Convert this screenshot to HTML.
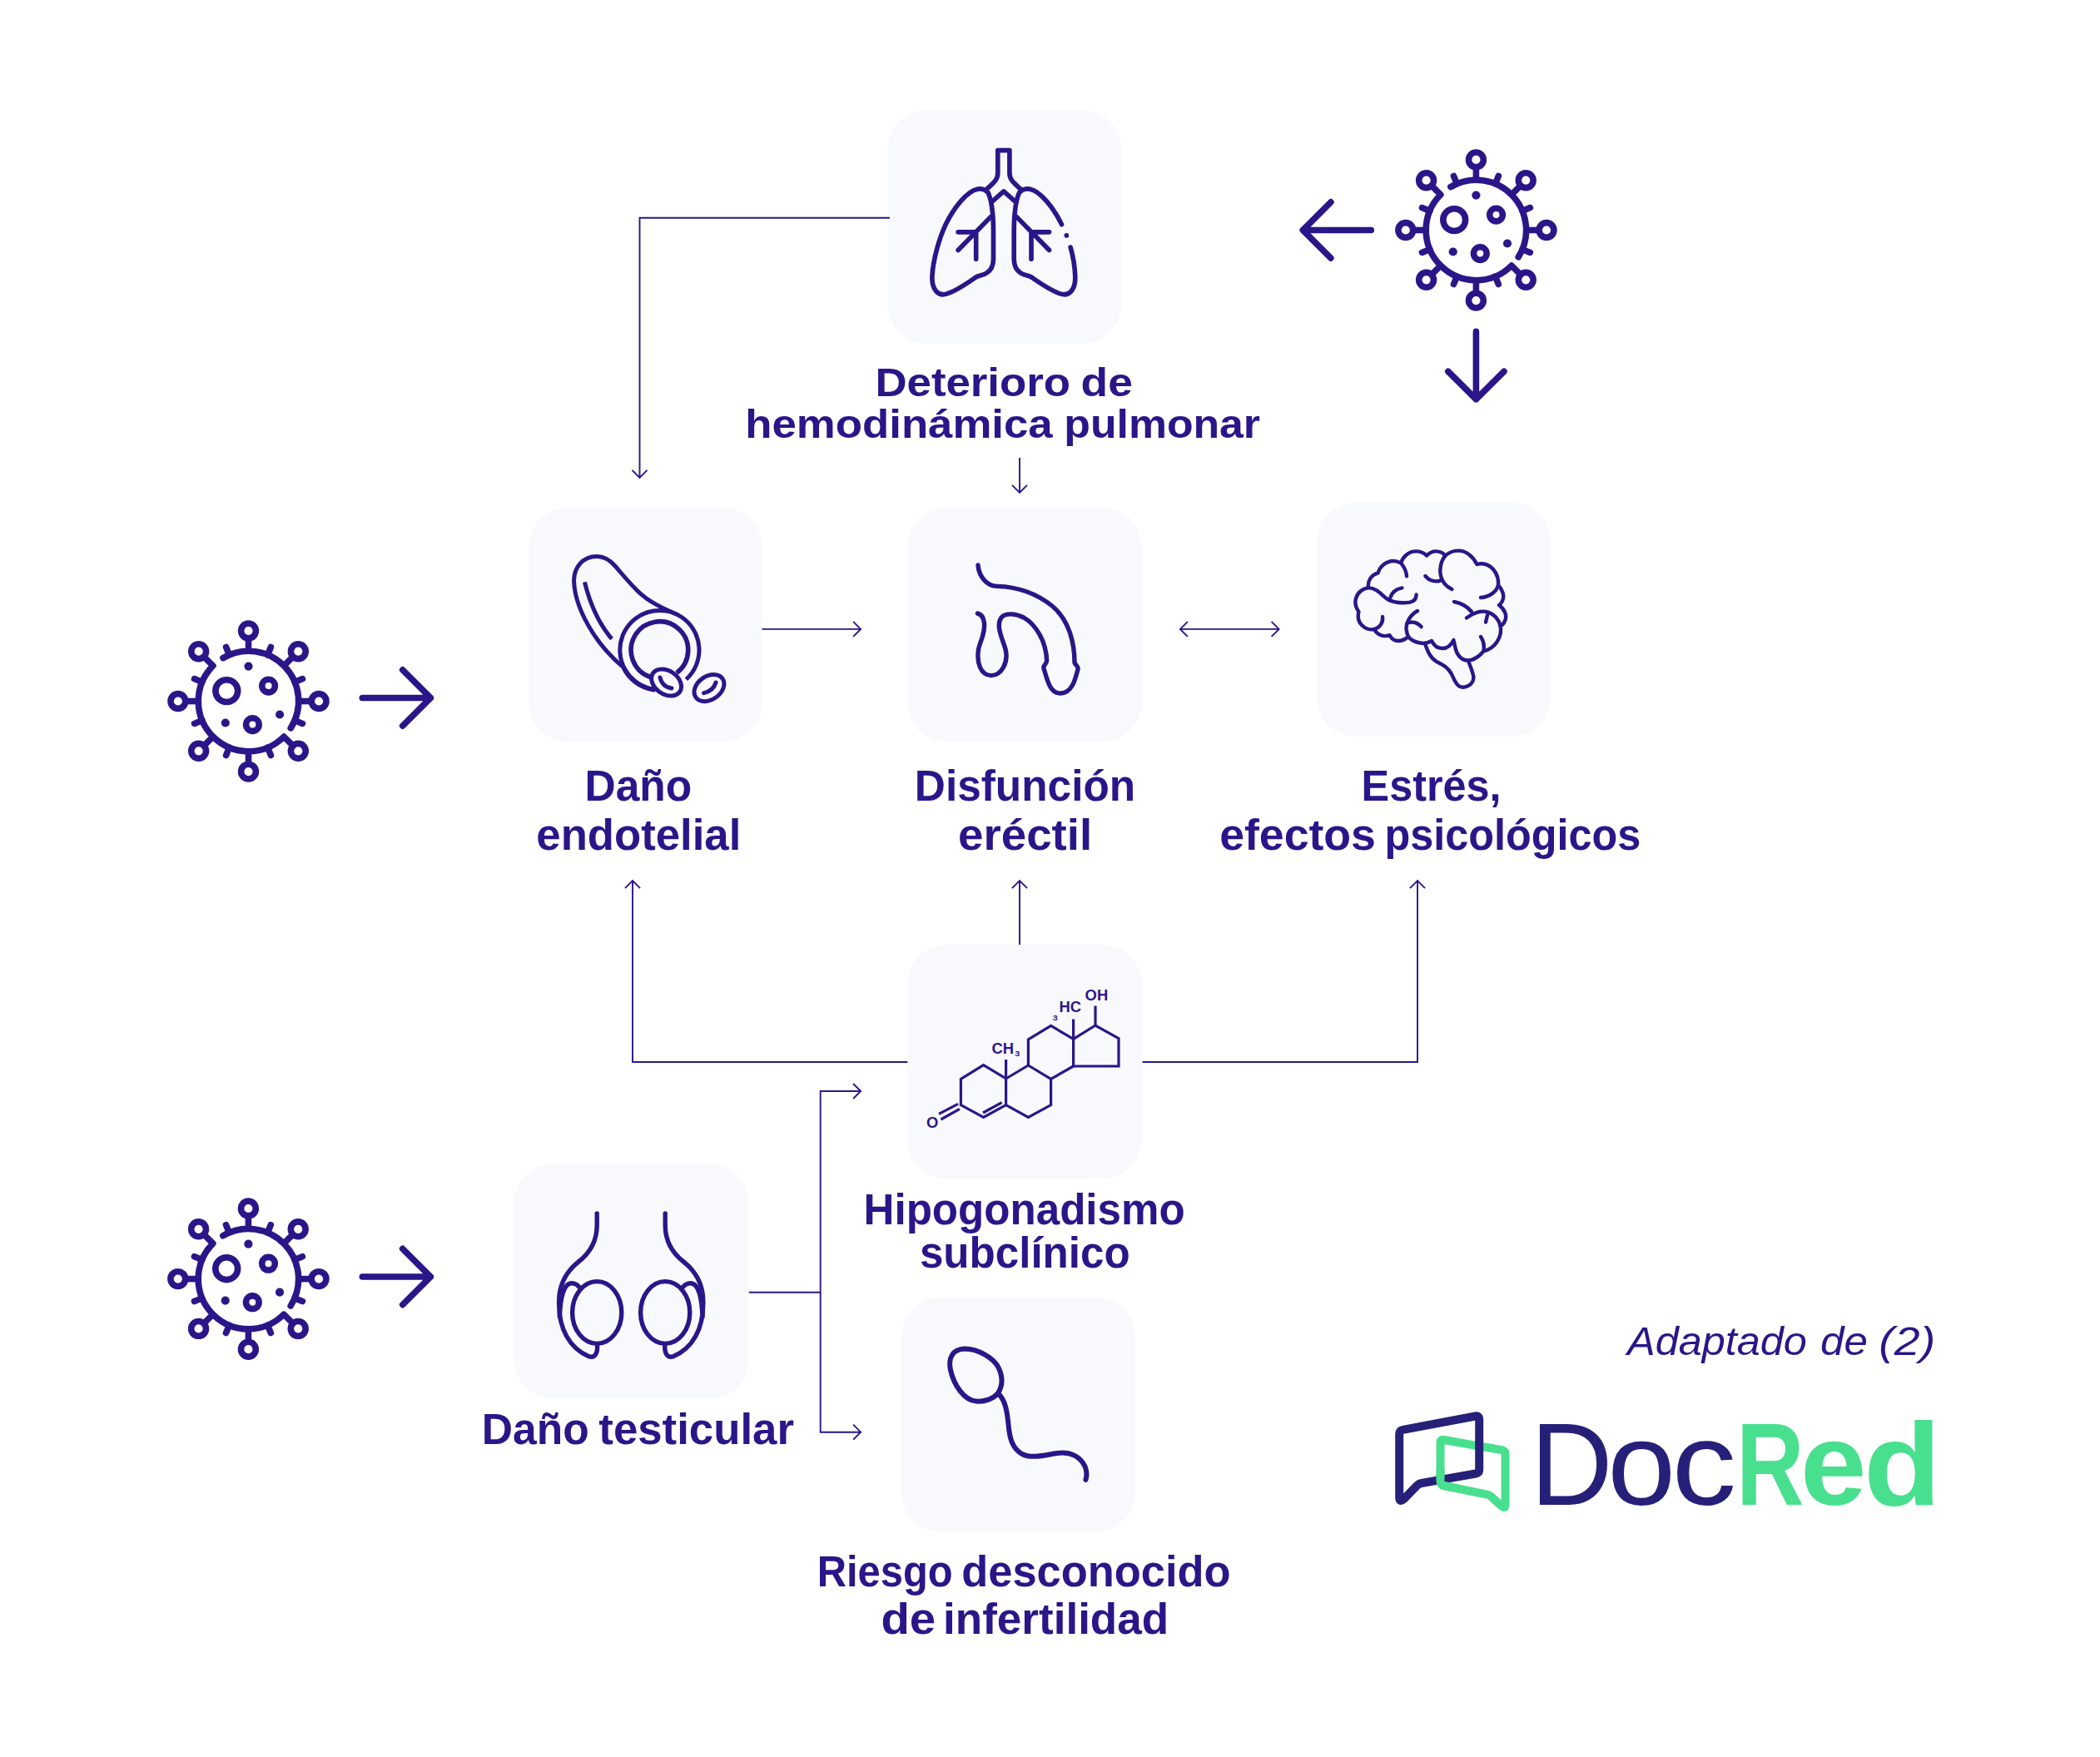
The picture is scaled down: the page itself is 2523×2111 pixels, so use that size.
<!DOCTYPE html>
<html lang="es"><head><meta charset="utf-8"><title>COVID-19 y disfunción eréctil</title>
<style>
html,body{margin:0;padding:0;background:#fff;}
body{width:2523px;height:2111px;overflow:hidden;}
svg{display:block;}
text{font-family:"Liberation Sans",sans-serif;}
.ic{fill:none;stroke:#2a1689;stroke-linecap:round;stroke-linejoin:round;}
.ln{fill:none;stroke:#2a1689;stroke-width:1.9;stroke-linecap:butt;stroke-linejoin:miter;}
</style></head><body>
<svg width="2523" height="2111" viewBox="0 0 2523 2111">
<rect width="2523" height="2111" fill="#ffffff"/>

<g id="boxes">
<rect x="1066.0" y="132.0" width="281.0" height="281.0" rx="47" ry="47" fill="#f8f9fc"/>
<rect x="634.8" y="610.0" width="280.8" height="281.0" rx="47" ry="47" fill="#f8f9fc"/>
<rect x="1090.4" y="610.0" width="281.0" height="281.0" rx="47" ry="47" fill="#f8f9fc"/>
<rect x="1582.0" y="604.0" width="281.0" height="281.0" rx="47" ry="47" fill="#f8f9fc"/>
<rect x="1090.4" y="1135.0" width="281.0" height="281.0" rx="47" ry="47" fill="#f8f9fc"/>
<rect x="617.6" y="1398.4" width="282.2" height="282.4" rx="47" ry="47" fill="#f8f9fc"/>
<rect x="1083.0" y="1559.0" width="281.0" height="281.0" rx="47" ry="47" fill="#f8f9fc"/>
</g>
<g id="connectors" class="ln">
<path d="M1069,261.7 H768.5 V574 M759.5,564.8 L768.5,573.8 L777.5,564.8"/>
<path d="M1225,550 V592 M1216.0,582.8 L1225.0,591.8 L1234.0,582.8"/>
<path d="M915.5,755.9 H1034 M1025.1,746.9 L1034.1,755.9 L1025.1,764.9"/>
<path d="M1418,755.9 H1536.5 M1426.9,746.9 L1417.9,755.9 L1426.9,764.9 M1527.6,746.9 L1536.6,755.9 L1527.6,764.9"/>
<path d="M1090.4,1276 H760 V1058 M751.0,1067.2 L760.0,1058.2 L769.0,1067.2"/>
<path d="M1225,1135 V1058 M1216.0,1067.2 L1225.0,1058.2 L1234.0,1067.2"/>
<path d="M1372.6,1276 H1703 V1058 M1694.0,1067.2 L1703.0,1058.2 L1712.0,1067.2"/>
<path d="M899.8,1552.7 H985.7"/>
<path d="M1034,1311 H985.7 V1720.7 H1034 M1025.1,1302.0 L1034.1,1311.0 L1025.1,1320.0 M1025.1,1711.7 L1034.1,1720.7 L1025.1,1729.7"/>
</g>
<g id="icons">
<g class="ic" stroke-width="32" transform="translate(1040,120.6) scale(0.176435)">
<path d="M822,607 C865,565 900,545 900,495 L900,340 L980,340 L980,495 C980,545 1015,565 1058,607"/>
<path d="M860,690 L940,620 L1020,690"/>
<path d="M870,1080 L870,900 C870,800 865,700 835,630 C820,610 790,598 760,604 C690,618 600,732 545,845 C500,940 458,1090 453,1200 C450,1290 495,1335 550,1318 C620,1298 710,1232 750,1205 C775,1188 800,1195 825,1175 C855,1155 870,1120 870,1080 Z"/>
<path d="M1395,1000 C1415,1070 1425,1140 1427,1200 C1430,1290 1385,1335 1330,1318 C1260,1298 1170,1232 1130,1205 C1105,1188 1080,1195 1055,1175 C1025,1155 1010,1120 1010,1080 L1010,900 C1010,800 1015,700 1045,630 C1060,610 1090,598 1120,604 C1190,618 1280,732 1335,845"/>
<circle cx="1368" cy="920" r="16" fill="#2a1689" stroke="none"/>
<path d="M850,795 L630,1020 M630,897 L750,897 M752,905 L752,1080"/>
<path d="M1030,795 L1250,1020 M1250,897 L1130,897 M1128,905 L1128,1080"/>
</g>
<g class="ic" stroke-width="25" transform="translate(600,590) scale(0.2)">
<path d="M1062,739 C1000,712 900,670 830,600 C770,540 730,490 695,450 C665,415 630,392 585,392 C500,392 445,460 448,545 C452,640 490,740 560,850 C610,930 675,1000 742.7,1057.3 A242,242 0 0 0 928.3,1194.6"/>
<path d="M1121.9,1131.3 A238,238 0 1 0 928.9,1190.7" stroke-linecap="butt"/>
<path d="M1065.2,1092 A171.5,171.5 0 1 0 907.6,1117.6" stroke-linecap="butt" stroke-width="28"/>
<path d="M512,547 C545,680 600,800 675,888" stroke-linecap="butt"/>
<ellipse cx="1003" cy="1150" rx="98" ry="70" transform="rotate(35 1003 1150)" fill="#f8f9fc"/>
<path d="M965,1120 C975,1160 1000,1180 1035,1185"/>
<ellipse cx="1260" cy="1183" rx="98" ry="70" transform="rotate(-35 1260 1183)"/>
<path d="M1300,1150 C1290,1185 1265,1205 1228,1213"/>
</g>
<g class="ic" stroke-width="27" transform="translate(1060,590) scale(0.2)">
<path d="M575,445 C580,510 625,570 690,572 C800,575 920,610 1020,690 C1110,765 1155,890 1155,1030 C1160,1050 1180,1050 1175,1070 C1160,1130 1140,1215 1070,1215 C1005,1215 990,1130 970,1065 C965,1045 985,1045 988,1020 C985,900 920,800 850,760 C800,735 740,730 715,760 C680,810 720,880 740,950 C760,1030 715,1108 655,1108 C590,1108 565,1030 578,950 C590,890 620,860 612,790 C608,760 595,740 572,735"/>
</g>
<g class="ic" stroke-width="22" transform="translate(1560,590) scale(0.2)">
<path d="M420,582 C415,540 435,505 478,492 C490,450 530,420 570,420 C590,420 605,427 615,432 C630,390 665,362 705,362 C730,362 755,372 770,388 C790,368 805,362 825,362 C850,362 870,372 882,388 C905,368 935,358 960,358 C1010,358 1050,395 1072,440 C1090,435 1110,435 1130,442 C1175,460 1205,510 1200,565 C1225,590 1240,630 1225,660 C1220,672 1212,680 1205,685 C1240,710 1255,750 1240,780 C1235,795 1225,805 1213,812 C1225,880 1180,945 1112,962 C1085,995 1050,1015 1020,1018 C975,1018 950,980 942,940 L932,895 C915,930 890,945 865,945 C835,945 812,925 800,900 C780,912 760,916 740,914 C700,910 670,890 660,875 C640,892 620,900 600,900 C575,900 558,885 548,866 C530,872 510,872 495,866 C475,858 462,845 455,830 C430,835 400,825 380,805 C360,785 355,755 362,725 C345,700 338,670 345,645 C355,610 385,585 420,582 C470,580 500,625 535,650 C580,675 640,672 670,668 C695,662 708,645 708,622"/>
<path d="M615,432 C635,455 648,480 650,512"/>
<path d="M550,645 C560,610 585,588 622,582"/>
<path d="M882,388 C855,420 845,470 855,510 C865,550 890,575 922,590"/>
<path d="M762,510 C785,538 820,548 852,538"/>
<path d="M1095,640 C1150,635 1190,605 1200,565"/>
<path d="M935,665 C975,672 1015,695 1040,725"/>
<path d="M1010,762 C1050,730 1100,715 1140,728 C1180,742 1205,775 1213,812"/>
<path d="M1135,745 L1125,788"/>
<path d="M1095,875 C1112,900 1118,930 1112,962"/>
<path d="M715,720 C670,745 645,790 648,830 C650,850 655,865 660,875"/>
<path d="M658,790 C690,782 720,795 738,815"/>
<path d="M505,755 C510,790 490,820 455,830"/>
<path d="M760,918 C775,960 790,1000 830,1025 C870,1045 900,1060 920,1100 C935,1130 945,1160 965,1172 C1000,1190 1050,1165 1052,1120 C1050,1090 1030,1050 1020,1018"/>
</g>
<g transform="translate(1060,1110) scale(0.2)">
<g fill="none" stroke="#2a1689" stroke-width="16" stroke-linecap="butt" stroke-linejoin="miter">
<path d="M472,932 L608,848 L743,930 L743,1088 L608,1162 L472,1088 Z"/>
<path d="M743,930 L877,850 L1013,932 L1013,1088 L877,1162 L743,1088"/>
<path d="M877,850 L877,695 L1013,612 L1148,692 L1148,855 L1013,932"/>
<path d="M1148,692 L1280,610 L1420,688 L1420,855 L1148,855"/>
<path d="M743,930 L743,815 M1148,692 L1148,572 M1280,610 L1280,492"/>
<path d="M605,1135 L718,1073"/>
<path d="M455,1082 L340,1142 M465,1112 L352,1175"/>
</g>
<g fill="#2a1689" font-weight="bold" font-size="92">
<text x="265" y="1226">O</text>
<text x="658" y="782">CH<tspan font-size="44" dy="12" dx="5" textLength="30" lengthAdjust="spacingAndGlyphs">3</tspan></text>
<text x="1024" y="578" font-size="44" textLength="30" lengthAdjust="spacingAndGlyphs">3</text>
<text x="1062" y="532">HC</text>
<text x="1218" y="459">OH</text>
</g>
</g>
<g class="ic" stroke-width="27" transform="translate(580,1380) scale(0.2)">
<path d="M686,390 L686,460 C686,560 640,630 575,680 C500,740 458,820 458,920 C455,1080 520,1200 640,1250 C670,1258 690,1235 688,1185"/>
<ellipse cx="686" cy="985" rx="148" ry="187"/>
<path d="M582,835 C560,805 525,800 505,822 C482,848 466,900 462,1010"/>
<path d="M1096,390 L1096,460 C1096,560 1142,630 1207,680 C1282,740 1324,820 1324,920 C1327,1080 1262,1200 1142,1250 C1112,1258 1092,1235 1094,1185"/>
<ellipse cx="1096" cy="985" rx="148" ry="187"/>
<path d="M1200,835 C1222,805 1257,800 1277,822 C1300,848 1316,900 1320,1010"/>
</g>
<g class="ic" stroke-width="30" transform="translate(1050,1540) scale(0.2)">
<path d="M745,670 C720,700 670,722 615,718 C540,712 480,620 460,530 C445,460 470,405 545,403 C620,403 720,455 750,520 C775,575 770,630 745,670 Z"/>
<path d="M745,670 C790,710 800,780 808,860 C815,940 830,1000 890,1035 C950,1065 1030,1040 1100,1030 C1180,1018 1240,1050 1268,1110 C1280,1140 1278,1170 1272,1190"/>
</g>
<g class="ic" stroke-width="7.6" transform="translate(1773.4,276.5)"><path d="M-30.55,-51.87 A60.2,60.2 0 0 1 50.77,32.35"/><path d="M53.53,53.53 L42.57,42.57 A60.2,60.2 0 0 1 -42.57,-42.57 L-53.53,-53.53" stroke-linejoin="round"/><circle cx="84.60" cy="0.00" r="8.9"/><path d="M60.20,0.00 L75.70,0.00" stroke-linecap="butt"/><circle cx="59.82" cy="59.82" r="8.9"/><circle cx="0.00" cy="84.60" r="8.9"/><path d="M0.00,60.20 L0.00,75.70" stroke-linecap="butt"/><circle cx="-59.82" cy="59.82" r="8.9"/><path d="M-42.57,42.57 L-53.53,53.53" stroke-linecap="butt"/><circle cx="-84.60" cy="0.00" r="8.9"/><path d="M-60.20,0.00 L-75.70,0.00" stroke-linecap="butt"/><circle cx="-59.82" cy="-59.82" r="8.9"/><circle cx="-0.00" cy="-84.60" r="8.9"/><path d="M-0.00,-60.20 L-0.00,-75.70" stroke-linecap="butt"/><circle cx="59.82" cy="-59.82" r="8.9"/><path d="M42.57,-42.57 L53.53,-53.53" stroke-linecap="butt"/><path d="M55.62,23.04 L64.95,26.90"/><path d="M23.04,55.62 L26.90,64.95"/><path d="M-23.04,55.62 L-26.90,64.95"/><path d="M-55.62,23.04 L-64.95,26.90"/><path d="M-55.62,-23.04 L-64.95,-26.90"/><path d="M-23.04,-55.62 L-26.90,-64.95"/><path d="M23.04,-55.62 L26.90,-64.95"/><path d="M55.62,-23.04 L64.95,-26.90"/><circle cx="-26.2" cy="-12.4" r="13.4"/><circle cx="24.1" cy="-18.4" r="7.8"/><circle cx="4.9" cy="28.1" r="7.8"/><circle cx="0" cy="-41.9" r="5.1" fill="#2a1689" stroke="none"/><circle cx="37.6" cy="16.0" r="5.1" fill="#2a1689" stroke="none"/><circle cx="-27.7" cy="26.0" r="5.1" fill="#2a1689" stroke="none"/></g>
<g class="ic" stroke-width="7.6" transform="translate(298.5,842.5)"><path d="M-30.55,-51.87 A60.2,60.2 0 0 1 50.77,32.35"/><path d="M53.53,53.53 L42.57,42.57 A60.2,60.2 0 0 1 -42.57,-42.57 L-53.53,-53.53" stroke-linejoin="round"/><circle cx="84.60" cy="0.00" r="8.9"/><path d="M60.20,0.00 L75.70,0.00" stroke-linecap="butt"/><circle cx="59.82" cy="59.82" r="8.9"/><circle cx="0.00" cy="84.60" r="8.9"/><path d="M0.00,60.20 L0.00,75.70" stroke-linecap="butt"/><circle cx="-59.82" cy="59.82" r="8.9"/><path d="M-42.57,42.57 L-53.53,53.53" stroke-linecap="butt"/><circle cx="-84.60" cy="0.00" r="8.9"/><path d="M-60.20,0.00 L-75.70,0.00" stroke-linecap="butt"/><circle cx="-59.82" cy="-59.82" r="8.9"/><circle cx="-0.00" cy="-84.60" r="8.9"/><path d="M-0.00,-60.20 L-0.00,-75.70" stroke-linecap="butt"/><circle cx="59.82" cy="-59.82" r="8.9"/><path d="M42.57,-42.57 L53.53,-53.53" stroke-linecap="butt"/><path d="M55.62,23.04 L64.95,26.90"/><path d="M23.04,55.62 L26.90,64.95"/><path d="M-23.04,55.62 L-26.90,64.95"/><path d="M-55.62,23.04 L-64.95,26.90"/><path d="M-55.62,-23.04 L-64.95,-26.90"/><path d="M-23.04,-55.62 L-26.90,-64.95"/><path d="M23.04,-55.62 L26.90,-64.95"/><path d="M55.62,-23.04 L64.95,-26.90"/><circle cx="-26.2" cy="-12.4" r="13.4"/><circle cx="24.1" cy="-18.4" r="7.8"/><circle cx="4.9" cy="28.1" r="7.8"/><circle cx="0" cy="-41.9" r="5.1" fill="#2a1689" stroke="none"/><circle cx="37.6" cy="16.0" r="5.1" fill="#2a1689" stroke="none"/><circle cx="-27.7" cy="26.0" r="5.1" fill="#2a1689" stroke="none"/></g>
<g class="ic" stroke-width="7.6" transform="translate(298.4,1536.6)"><path d="M-30.55,-51.87 A60.2,60.2 0 0 1 50.77,32.35"/><path d="M53.53,53.53 L42.57,42.57 A60.2,60.2 0 0 1 -42.57,-42.57 L-53.53,-53.53" stroke-linejoin="round"/><circle cx="84.60" cy="0.00" r="8.9"/><path d="M60.20,0.00 L75.70,0.00" stroke-linecap="butt"/><circle cx="59.82" cy="59.82" r="8.9"/><circle cx="0.00" cy="84.60" r="8.9"/><path d="M0.00,60.20 L0.00,75.70" stroke-linecap="butt"/><circle cx="-59.82" cy="59.82" r="8.9"/><path d="M-42.57,42.57 L-53.53,53.53" stroke-linecap="butt"/><circle cx="-84.60" cy="0.00" r="8.9"/><path d="M-60.20,0.00 L-75.70,0.00" stroke-linecap="butt"/><circle cx="-59.82" cy="-59.82" r="8.9"/><circle cx="-0.00" cy="-84.60" r="8.9"/><path d="M-0.00,-60.20 L-0.00,-75.70" stroke-linecap="butt"/><circle cx="59.82" cy="-59.82" r="8.9"/><path d="M42.57,-42.57 L53.53,-53.53" stroke-linecap="butt"/><path d="M55.62,23.04 L64.95,26.90"/><path d="M23.04,55.62 L26.90,64.95"/><path d="M-23.04,55.62 L-26.90,64.95"/><path d="M-55.62,23.04 L-64.95,26.90"/><path d="M-55.62,-23.04 L-64.95,-26.90"/><path d="M-23.04,-55.62 L-26.90,-64.95"/><path d="M23.04,-55.62 L26.90,-64.95"/><path d="M55.62,-23.04 L64.95,-26.90"/><circle cx="-26.2" cy="-12.4" r="13.4"/><circle cx="24.1" cy="-18.4" r="7.8"/><circle cx="4.9" cy="28.1" r="7.8"/><circle cx="0" cy="-41.9" r="5.1" fill="#2a1689" stroke="none"/><circle cx="37.6" cy="16.0" r="5.1" fill="#2a1689" stroke="none"/><circle cx="-27.7" cy="26.0" r="5.1" fill="#2a1689" stroke="none"/></g>
<path class="ic" stroke-width="7.6" d="M1647.3,276.5 L1565.3,276.5 M1598.90,242.90 L1565.3,276.5 L1598.90,310.10"/>
<path class="ic" stroke-width="7.6" d="M1773.4,398.4 L1773.4,479.8 M1739.80,446.20 L1773.4,479.8 L1807.00,446.20"/>
<path class="ic" stroke-width="7.6" d="M435.3,838.5 L517.3,838.5 M483.70,872.10 L517.3,838.5 L483.70,804.90"/>
<path class="ic" stroke-width="7.6" d="M435.3,1534.0 L517.3,1534.0 M483.70,1567.60 L517.3,1534.0 L483.70,1500.40"/>
</g>
<g fill="none" stroke-width="10" stroke-linejoin="round" stroke-linecap="round" role="img" aria-label="DocRed"><title>DocRed</title>
<path stroke="#48e08e" d="M1730.5,1733.5 Q1730.5,1729 1735,1730 L1804,1742.2 Q1808.5,1743 1808.5,1747.5 L1808.5,1807 Q1808.5,1814 1803.5,1809 L1791.5,1798 Q1789.5,1796.3 1786.5,1795.7 L1735,1785 Q1730.5,1784 1730.5,1779.5 Z"/>
<path stroke="#262078" d="M1681.2,1799 L1681.2,1723 Q1681.2,1718.7 1685.5,1717.9 L1772.5,1701.5 Q1777.2,1700.6 1777.2,1705.5 L1777.2,1765.5 Q1777.2,1769.7 1773,1770.5 L1708,1782 Q1704.5,1782.6 1702.5,1784.8 L1687,1800.8 Q1681.2,1806 1681.2,1799 Z"/>
<path stroke="#48e08e" d="M1730.5,1765 L1730.5,1779.5 Q1730.5,1784 1735,1785 L1745,1787" stroke-linecap="butt"/>
</g>
<g id="labels">
<text y="475.70" font-size="48" font-weight="bold" fill="#2a1689"><tspan x="1051.44" textLength="234.57" lengthAdjust="spacingAndGlyphs">Deterioro</tspan> <tspan x="1298.57" textLength="62.28" lengthAdjust="spacingAndGlyphs">de</tspan></text>
<text y="526.00" font-size="48" font-weight="bold" fill="#2a1689"><tspan x="895.31" textLength="369.41" lengthAdjust="spacingAndGlyphs">hemodinámica</tspan> <tspan x="1278.34" textLength="235.65" lengthAdjust="spacingAndGlyphs">pulmonar</tspan></text>
<text y="962.30" font-size="51" font-weight="bold" fill="#2a1689"><tspan x="702.52" textLength="128.71" lengthAdjust="spacingAndGlyphs">Daño</tspan></text>
<text y="1020.70" font-size="51" font-weight="bold" fill="#2a1689"><tspan x="644.39" textLength="245.90" lengthAdjust="spacingAndGlyphs">endotelial</tspan></text>
<text y="962.30" font-size="51" font-weight="bold" fill="#2a1689"><tspan x="1098.83" textLength="265.33" lengthAdjust="spacingAndGlyphs">Disfunción</tspan></text>
<text y="1020.70" font-size="51" font-weight="bold" fill="#2a1689"><tspan x="1151.11" textLength="161.09" lengthAdjust="spacingAndGlyphs">eréctil</tspan></text>
<text y="962.30" font-size="51" font-weight="bold" fill="#2a1689"><tspan x="1635.60" textLength="167.82" lengthAdjust="spacingAndGlyphs">Estrés,</tspan></text>
<text y="1020.70" font-size="51" font-weight="bold" fill="#2a1689"><tspan x="1465.15" textLength="187.77" lengthAdjust="spacingAndGlyphs">efectos</tspan> <tspan x="1663.43" textLength="307.89" lengthAdjust="spacingAndGlyphs">psicológicos</tspan></text>
<text y="1470.70" font-size="51" font-weight="bold" fill="#2a1689"><tspan x="1037.55" textLength="386.09" lengthAdjust="spacingAndGlyphs">Hipogonadismo</tspan></text>
<text y="1523.30" font-size="51" font-weight="bold" fill="#2a1689"><tspan x="1104.91" textLength="252.73" lengthAdjust="spacingAndGlyphs">subclínico</tspan></text>
<text y="1735.00" font-size="51" font-weight="bold" fill="#2a1689"><tspan x="578.82" textLength="128.81" lengthAdjust="spacingAndGlyphs">Daño</tspan> <tspan x="719.34" textLength="234.70" lengthAdjust="spacingAndGlyphs">testicular</tspan></text>
<text y="1905.70" font-size="51" font-weight="bold" fill="#2a1689"><tspan x="981.70" textLength="162.91" lengthAdjust="spacingAndGlyphs">Riesgo</tspan> <tspan x="1155.20" textLength="323.47" lengthAdjust="spacingAndGlyphs">desconocido</tspan></text>
<text y="1963.30" font-size="51" font-weight="bold" fill="#2a1689"><tspan x="1058.44" textLength="65.80" lengthAdjust="spacingAndGlyphs">de</tspan> <tspan x="1132.99" textLength="271.24" lengthAdjust="spacingAndGlyphs">infertilidad</tspan></text>
<text y="1628.00" font-size="49" font-weight="normal" font-style="italic" fill="#2a1689"><tspan x="1955.02" textLength="215.89" lengthAdjust="spacingAndGlyphs">Adaptado</tspan> <tspan x="2187.14" textLength="56.87" lengthAdjust="spacingAndGlyphs">de</tspan> <tspan x="2257.36" textLength="67.85" lengthAdjust="spacingAndGlyphs">(2)</tspan></text>
<text y="1807.5" font-size="141.6" fill="#262078" aria-label="DocRed"><tspan x="1838.72" textLength="98.73" lengthAdjust="spacingAndGlyphs">D</tspan><tspan x="1931.35" textLength="81.81" lengthAdjust="spacingAndGlyphs">o</tspan><tspan x="2008.41" textLength="77.56" lengthAdjust="spacingAndGlyphs">c</tspan><tspan x="2085.98" textLength="81.52" lengthAdjust="spacingAndGlyphs" font-weight="bold" fill="#48e08e">R</tspan><tspan x="2162.88" textLength="79.54" lengthAdjust="spacingAndGlyphs" font-weight="bold" fill="#48e08e">e</tspan><tspan x="2239.11" textLength="93.02" lengthAdjust="spacingAndGlyphs" font-weight="bold" fill="#48e08e">d</tspan></text>
</g>
</svg></body></html>
